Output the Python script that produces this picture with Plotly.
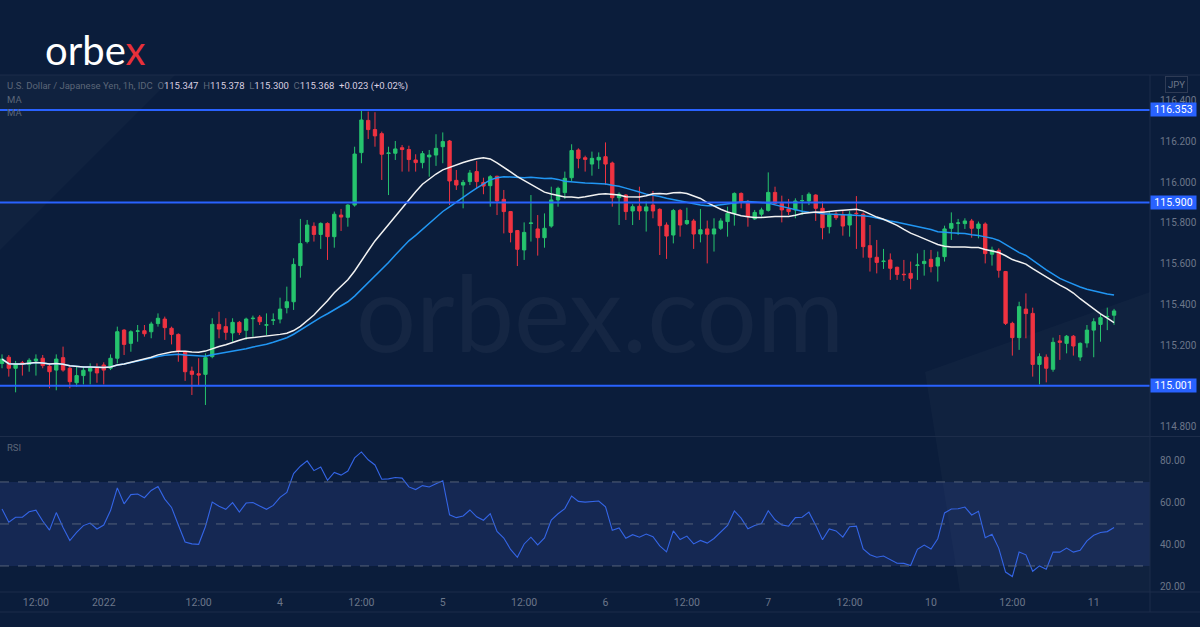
import pandas as pd
import numpy as np
import plotly.graph_objects as go

# ---------------- data ----------------
sessions = [("2021-12-31 07:00", "2021-12-31 21:00"),
            ("2022-01-02 22:00", "2022-01-07 21:00"),
            ("2022-01-09 22:00", "2022-01-11 03:00")]
times = []
for a, b in sessions:
    times += [t.strftime("%Y-%m-%d %H:%M") for t in pd.date_range(a, b, freq="h")]

opens = [115.110,115.141,115.087,115.114,115.106,115.124,115.136,115.097,115.078,115.139,
         115.087,115.016,115.051,115.073,115.087,115.103,115.087,115.136,115.274,115.209,
         115.268,115.271,115.266,115.306,115.328,115.283,115.253,115.168,115.073,115.060,
         115.057,115.144,115.302,115.291,115.260,115.312,115.273,115.330,115.338,115.298,
         115.322,115.328,115.384,115.413,115.590,115.708,115.783,115.743,115.797,115.732,
         115.838,115.827,115.887,116.144,116.302,116.257,116.237,116.140,116.141,116.168,
         116.159,116.108,116.095,116.123,116.132,116.173,116.201,116.008,115.985,116.002,
         116.051,115.998,115.982,116.028,115.915,115.855,115.762,115.667,115.797,115.770,
         115.727,115.784,115.912,115.948,116.021,116.157,116.119,116.088,116.108,116.124,
         116.093,115.923,115.936,115.858,115.881,115.858,115.887,115.866,115.789,115.740,
         115.861,115.796,115.809,115.745,115.770,115.745,115.773,115.806,115.846,115.944,
         115.900,115.819,115.842,115.861,115.949,115.895,115.868,115.863,115.908,115.907,
         115.936,115.871,115.781,115.843,115.838,115.789,115.847,115.842,115.688,115.631,
         115.610,115.618,115.582,115.548,115.552,115.591,115.600,115.621,115.588,115.634,
         115.773,115.798,115.796,115.809,115.773,115.794,115.646,115.665,115.561,115.307,
         115.237,115.377,115.356,115.106,115.141,115.082,115.221,115.209,115.244,115.142,
         115.211,115.274,115.302,115.339,115.347]
highs = [115.155,115.152,115.123,115.123,115.136,115.155,115.152,115.111,115.155,115.193,
         115.100,115.095,115.095,115.111,115.111,115.116,115.155,115.291,115.279,115.273,
         115.299,115.299,115.315,115.356,115.340,115.291,115.258,115.172,115.095,115.136,
         115.160,115.332,115.364,115.332,115.332,115.319,115.335,115.345,115.348,115.356,
         115.356,115.433,115.487,115.626,115.819,115.814,115.802,115.802,115.802,115.855,
         115.868,115.891,116.173,116.353,116.345,116.342,116.247,116.173,116.201,116.181,
         116.178,116.136,116.152,116.157,116.234,116.243,116.206,116.059,116.010,116.059,
         116.103,116.021,116.034,116.031,115.961,115.858,115.765,115.802,115.936,115.838,
         115.846,115.977,115.977,116.051,116.185,116.165,116.129,116.149,116.145,116.194,
         116.100,115.949,115.940,115.891,115.977,115.904,115.956,115.871,115.802,115.868,
         115.868,115.874,115.819,115.868,115.811,115.822,115.822,115.879,115.949,115.949,
         115.912,115.863,115.874,116.047,115.977,115.933,115.917,115.920,115.936,115.949,
         115.940,115.904,115.858,115.855,115.858,115.858,115.931,115.851,115.789,115.716,
         115.672,115.650,115.585,115.618,115.610,115.650,115.667,115.667,115.659,115.786,
         115.851,115.819,115.822,115.819,115.806,115.802,115.683,115.675,115.564,115.315,
         115.413,115.454,115.384,115.160,115.155,115.237,115.250,115.250,115.250,115.214,
         115.299,115.332,115.356,115.384,115.378]
lows = [115.087,115.046,114.969,115.051,115.070,115.051,115.087,114.989,114.979,115.070,
        114.989,114.997,115.008,115.008,115.016,115.008,115.078,115.111,115.152,115.168,
        115.217,115.242,115.234,115.291,115.226,115.204,115.119,115.025,114.956,115.005,
        114.907,115.136,115.234,115.226,115.217,115.250,115.226,115.242,115.299,115.250,
        115.299,115.307,115.356,115.373,115.531,115.699,115.708,115.672,115.618,115.678,
        115.760,115.781,115.879,116.092,116.211,116.173,116.010,115.936,116.108,116.051,
        116.051,116.051,116.067,116.026,116.079,116.092,115.887,115.961,115.871,115.985,
        115.969,115.940,115.879,115.838,115.748,115.704,115.588,115.618,115.708,115.639,
        115.678,115.776,115.879,115.917,116.005,116.067,116.051,116.031,116.064,115.985,
        115.879,115.789,115.814,115.789,115.814,115.757,115.822,115.642,115.623,115.699,
        115.732,115.789,115.672,115.704,115.601,115.659,115.765,115.732,115.786,115.871,
        115.781,115.814,115.830,115.855,115.887,115.802,115.838,115.822,115.838,115.887,
        115.809,115.719,115.748,115.814,115.737,115.732,115.672,115.629,115.561,115.552,
        115.574,115.520,115.520,115.515,115.474,115.520,115.541,115.557,115.512,115.610,
        115.716,115.740,115.770,115.727,115.724,115.601,115.590,115.531,115.299,115.149,
        115.177,115.234,115.046,115.008,115.018,115.070,115.128,115.160,115.149,115.123,
        115.188,115.141,115.217,115.274,115.300]
closes = [115.132,115.087,115.106,115.106,115.126,115.132,115.100,115.070,115.132,115.078,
          115.021,115.051,115.077,115.087,115.064,115.078,115.136,115.266,115.204,115.266,
          115.270,115.256,115.304,115.332,115.286,115.253,115.172,115.070,115.057,115.054,
          115.139,115.302,115.279,115.263,115.312,115.263,115.328,115.332,115.315,115.300,
          115.324,115.377,115.413,115.596,115.698,115.789,115.743,115.797,115.732,115.842,
          115.828,115.887,116.137,116.304,116.257,116.226,116.136,116.142,116.162,116.159,
          116.110,116.095,116.139,116.132,116.165,116.198,116.005,115.985,115.998,116.044,
          116.002,115.980,116.026,115.907,115.855,115.753,115.670,115.753,115.799,115.727,
          115.773,115.912,115.969,116.018,116.154,116.116,116.111,116.116,116.121,116.088,
          115.923,115.940,115.855,115.879,115.858,115.878,115.858,115.786,115.735,115.860,
          115.789,115.811,115.745,115.766,115.744,115.770,115.809,115.846,115.944,115.900,
          115.830,115.851,115.863,115.949,115.895,115.863,115.855,115.907,115.909,115.940,
          115.871,115.776,115.838,115.825,115.784,115.842,115.845,115.683,115.631,115.606,
          115.612,115.577,115.547,115.546,115.528,115.593,115.611,115.585,115.629,115.770,
          115.797,115.799,115.809,115.773,115.794,115.649,115.667,115.567,115.307,115.237,
          115.389,115.355,115.106,115.144,115.087,115.214,115.214,115.244,115.196,115.209,
          115.274,115.315,115.335,115.341,115.368]

levels = [116.353, 115.900, 115.001]
price_ticks = [114.8, 115.2, 115.4, 115.6, 115.8, 116.0, 116.2, 116.4]
rsi_ticks = [20, 40, 60, 80]
rsi_bands = [30, 50, 70]
time_tick_at = ["2021-12-31 12:00", "2022-01-02 22:00", "2022-01-03 12:00", "2022-01-04 00:00",
                "2022-01-04 12:00", "2022-01-05 00:00", "2022-01-05 12:00", "2022-01-06 00:00",
                "2022-01-06 12:00", "2022-01-07 00:00", "2022-01-07 12:00", "2022-01-10 00:00",
                "2022-01-10 12:00", "2022-01-11 00:00"]
time_tick_text = ["12:00", "2022", "12:00", "4", "12:00", "5", "12:00", "6",
                  "12:00", "7", "12:00", "10", "12:00", "11"]

# RSI state carried in from bars before the visible window (average gain / loss)
rsi_seed_gain = 0.016
rsi_seed_loss = 0.012

# ---------------- indicators ----------------
cl = pd.Series(closes)
ma_fast = cl.rolling(20, min_periods=1).mean()
ma_slow = cl.rolling(30, min_periods=1).mean()
g, l = rsi_seed_gain, rsi_seed_loss
rsi = [100 * g / (g + l)]
for k in range(1, len(closes)):
    ch = closes[k] - closes[k - 1]
    g = (g * 13 + max(ch, 0)) / 14
    l = (l * 13 + max(-ch, 0)) / 14
    rsi.append(100 * g / (g + l))

# ---------------- figure ----------------
BG = "#0b1d3b"
GRID = "#1d2d4a"
TXT = "#6b7689"
FONT = "Roboto"
W, H = 1200, 627
L, R, T, B = 0, 50, 75, 35
PW, PH = W - L - R, H - T - B

def px(x):
    return x / PW

def py(y):
    return (H - B - y) / PH

fig = go.Figure()
fig.add_trace(go.Candlestick(
    x=times, open=opens, high=highs, low=lows, close=closes,
    increasing=dict(line=dict(color="#26c46e", width=1), fillcolor="#26c46e"),
    decreasing=dict(line=dict(color="#ef3341", width=1), fillcolor="#ef3341"),
    whiskerwidth=0, showlegend=False, hoverinfo="skip", xaxis="x", yaxis="y"))
fig.add_trace(go.Scatter(x=times, y=ma_slow, mode="lines",
                         line=dict(color="#2196f3", width=1.5), showlegend=False,
                         hoverinfo="skip", xaxis="x", yaxis="y"))
fig.add_trace(go.Scatter(x=times, y=ma_fast, mode="lines",
                         line=dict(color="#f2f2f2", width=1.5), showlegend=False,
                         hoverinfo="skip", xaxis="x", yaxis="y"))
fig.add_trace(go.Scatter(x=times, y=rsi, mode="lines",
                         line=dict(color="#3465e6", width=1.1), showlegend=False,
                         hoverinfo="skip", xaxis="x", yaxis="y2"))

split = (H - B - 436.5) / PH
shapes = []
# faint background decorations
deco = "rgba(255,255,255,0.022)"
shapes.append(dict(type="path", xref="paper", yref="paper", layer="below",
                   path=f"M 0 {py(75)} L {px(175)} {py(75)} L 0 {py(250)} Z",
                   fillcolor=deco, line_width=0))
shapes.append(dict(type="path", xref="paper", yref="paper", layer="below",
                   path=f"M {px(925)} {py(372)} L {px(1150)} {py(292)} L {px(1150)} {py(592)} L {px(960)} {py(592)} Z",
                   fillcolor=deco, line_width=0))
# RSI band
shapes.append(dict(type="rect", xref="paper", yref="y2", x0=0, x1=1, y0=30, y1=70,
                   fillcolor="rgba(60,80,170,0.22)", line_width=0, layer="below"))
for b in rsi_bands:
    shapes.append(dict(type="line", xref="paper", yref="y2", x0=0, x1=1, y0=b, y1=b,
                       line=dict(color="#55627a", width=1, dash="dash")))
# support / resistance levels
for lv in levels:
    shapes.append(dict(type="line", xref="paper", yref="y", x0=0, x1=1, y0=lv, y1=lv,
                       line=dict(color="#2962ff", width=2)))
# frame lines
for yy in [75, 436.5, 592, 612]:
    shapes.append(dict(type="line", xref="paper", yref="paper", x0=0, x1=W / PW,
                       y0=py(yy), y1=py(yy), line=dict(color=GRID, width=1)))
shapes.append(dict(type="line", xref="paper", yref="paper", x0=1, x1=1,
                   y0=py(75), y1=py(612), line=dict(color=GRID, width=1)))

ann = []
# logo
ann.append(dict(xref="paper", yref="paper", x=px(43), y=py(50), xanchor="left", yanchor="middle",
                text="orbe<span style='color:#e8303a'>x</span>", showarrow=False,
                font=dict(family="Lato", size=40, color="#ffffff")))
# watermark
ann.append(dict(xref="paper", yref="paper", x=px(600), y=py(311), xanchor="center", yanchor="middle",
                text="orbex.com", showarrow=False,
                font=dict(family="Lato", size=106, color="rgba(255,255,255,0.045)")))
# header
hv = "#d9cfe0"
ann.append(dict(xref="paper", yref="paper", x=px(5), y=py(86), xanchor="left", yanchor="middle",
                text=("U.S. Dollar / Japanese Yen, 1h, IDC  "
                      f"O<span style='color:{hv}'>115.347</span>  H<span style='color:{hv}'>115.378</span>  "
                      f"L<span style='color:{hv}'>115.300</span>  C<span style='color:{hv}'>115.368</span>  "
                      f"<span style='color:{hv}'>+0.023 (+0.02%)</span>"),
                showarrow=False, font=dict(family=FONT, size=9.5, color="#5c6678")))
ann.append(dict(xref="paper", yref="paper", x=px(5), y=py(100), xanchor="left", yanchor="middle",
                text="MA", showarrow=False, font=dict(family=FONT, size=9.5, color="#5c6678")))
ann.append(dict(xref="paper", yref="paper", x=px(5), y=py(113), xanchor="left", yanchor="middle",
                text="MA", showarrow=False, font=dict(family=FONT, size=9.5, color="#5c6678")))
ann.append(dict(xref="paper", yref="paper", x=px(5), y=py(447), xanchor="left", yanchor="middle",
                text="RSI", showarrow=False, font=dict(family=FONT, size=9.5, color="#5c6678")))
# currency box
ann.append(dict(xref="paper", yref="paper", x=px(1176), y=py(84), xanchor="center", yanchor="middle",
                text="JPY", showarrow=False, bordercolor="#2e3b55", borderwidth=1, borderpad=2,
                font=dict(family=FONT, size=9.5, color=TXT)))
# level labels
for lv in levels:
    ann.append(dict(xref="paper", yref="y", x=1.0, y=lv, xanchor="left", yanchor="middle",
                    text=f"{lv:.3f}", showarrow=False, bgcolor="#2962ff", borderpad=0,
                    width=45, font=dict(family=FONT, size=10.5, color="#ffffff")))

fig.update_layout(
    width=W, height=H, margin=dict(l=L, r=R, t=T, b=B),
    paper_bgcolor=BG, plot_bgcolor=BG, showlegend=False,
    shapes=shapes, annotations=ann, hovermode=False,
    xaxis=dict(type="category", range=[-0.3, 169.3], anchor="y2",
               tickmode="array", tickvals=time_tick_at, ticktext=time_tick_text,
               showgrid=False, zeroline=False, showline=False,
               ticks="outside", ticklen=0, tickcolor="rgba(0,0,0,0)",
               tickfont=dict(family=FONT, size=10.5, color=TXT),
               rangeslider=dict(visible=False), fixedrange=True),
    yaxis=dict(domain=[split + 0.001, 1], range=[114.755, 116.5245], side="right",
               anchor="x", tickmode="array", tickvals=price_ticks, tickformat=".3f",
               showgrid=False, zeroline=False, showline=False, ticks="outside", ticklen=7,
               tickcolor="rgba(0,0,0,0)",
               tickfont=dict(family=FONT, size=10, color=TXT)),
    yaxis2=dict(domain=[0, split - 0.001], range=[17.6, 91.4], side="right", anchor="x",
                tickmode="array", tickvals=rsi_ticks, tickformat=".2f",
                showgrid=False, zeroline=False, showline=False, ticks="outside", ticklen=7,
                tickcolor="rgba(0,0,0,0)",
                tickfont=dict(family=FONT, size=10, color=TXT)),
)

fig.write_html("out.html", config={"displayModeBar": False},
               post_script="document.body.style.margin='0';document.body.style.overflow='hidden';")
